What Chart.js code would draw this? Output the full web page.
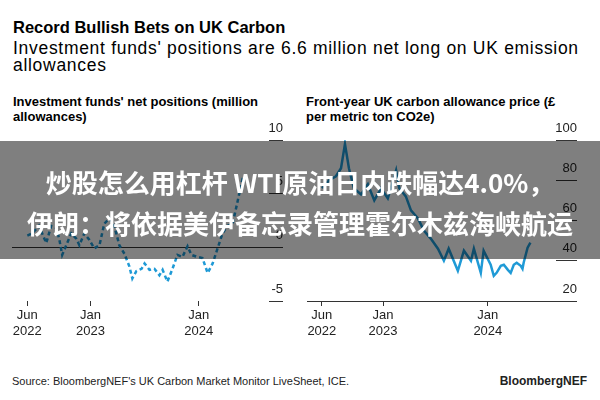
<!DOCTYPE html>
<html>
<head>
<meta charset="utf-8">
<script src="https://cdn.jsdelivr.net/npm/chart.js@4.4.1/dist/chart.umd.min.js"></script>
<style>
  body { margin: 0; background: #fff; }
  #page { position: relative; width: 600px; height: 400px; overflow: hidden;
          font-family: 'Liberation Sans', Arial, sans-serif; color: #000; }
  .txt { position: absolute; white-space: nowrap; }
  .panel { position: absolute; top: 120px; width: 300px; height: 225px; }
  #banner { position: absolute; left: 0; top: 141px; width: 600px; height: 118px;
            background: rgba(0, 0, 0, 0.5); color: #fff; text-align: center;
            font-family: 'Noto Sans CJK SC', sans-serif; font-weight: bold;
            font-size: 26px; line-height: 41px; padding-top: 20px; box-sizing: border-box; }
</style>
</head>
<body>
<div id="page">
  <div class="txt" style="left:13px;top:17px;font-weight:bold;font-size:16.5px;line-height:20px">Record Bullish Bets on UK Carbon</div>
  <div class="txt" style="left:13px;top:40px;font-size:17.5px;line-height:17px;letter-spacing:0.7px">Investment funds' positions are 6.6 million net long on UK emission<br>allowances</div>
  <div class="txt" style="left:13px;top:94px;font-weight:bold;font-size:13px;line-height:15px">Investment funds' net positions (million<br>allowances)</div>
  <div class="txt" style="left:306px;top:94px;font-weight:bold;font-size:13px;line-height:15px">Front-year UK carbon allowance price (£<br>per metric ton CO2e)</div>
  <div class="panel" style="left:0"><canvas id="funds"></canvas></div>
  <div class="panel" style="left:300px"><canvas id="price"></canvas></div>
  <div class="txt" style="left:12px;top:374px;font-size:11px;line-height:14px;color:#222">Source: BloombergNEF's UK Carbon Market Monitor LiveSheet, ICE.</div>
  <div class="txt" style="right:13px;top:374px;font-size:12px;line-height:14px;font-weight:bold;color:#222">BloombergNEF</div>
  <div id="banner">炒股怎么用杠杆 WTI原油日内跌幅达4.0%，<br>伊朗：将依据美伊备忘录管理霍尔木兹海峡航运</div>
</div>
<script>
// investment funds' net positions, million allowances
const fundDates = ['2022-06-01','2022-06-17','2022-07-10','2022-08-04','2022-08-21','2022-09-07',
  '2022-09-17','2022-09-27','2022-10-11','2022-10-28','2022-11-14','2022-11-24','2022-12-11',
  '2022-12-28','2023-01-14','2023-02-01','2023-02-16','2023-03-04','2023-03-21','2023-04-07',
  '2023-04-24','2023-05-11','2023-05-21','2023-06-04','2023-06-21','2023-07-01','2023-07-18',
  '2023-08-04','2023-08-21','2023-09-01','2023-09-17','2023-10-04','2023-10-21','2023-11-07',
  '2023-11-24','2023-12-07','2023-12-28','2024-01-14','2024-02-01','2024-02-17','2024-03-04',
  '2024-03-21','2024-04-07','2024-04-24','2024-05-11','2024-05-28','2024-06-04'];
const fundValues = [1.1, 1.3, 2.0, 0.4, 2.0, 1.8,
  0.8, -0.7, 0.2, 1.3, 0.8, 0.2, 1.3,
  0.7, -0.1, 0.2, 2.2, 2.7, 2.0, 0.2,
  -0.6, -1.8, -2.9, -2.2, -2.0, -1.5, -2.1,
  -2.0, -2.6, -2.1, -3.2, -2.0, -0.7, -0.9,
  0.1, -0.7, -0.9, -1.0, -2.4, -1.5, -0.1,
  1.3, 2.0, 2.2, 4.3, 6.4, 6.6];

// front-year UKA price, GBP per metric ton CO2e
const priceDates = ['2022-06-02','2022-06-26','2022-07-20','2022-08-07','2022-08-21','2022-09-04',
  '2022-09-21','2022-10-16','2022-11-09','2022-12-01','2022-12-25','2023-01-18','2023-02-15',
  '2023-02-25','2023-03-20','2023-04-07','2023-05-01','2023-05-22','2023-06-15','2023-07-10',
  '2023-07-31','2023-08-17','2023-09-18','2023-10-09','2023-11-03','2023-11-13','2023-12-07',
  '2023-12-17','2024-01-11','2024-01-22','2024-02-01','2024-02-15','2024-02-25','2024-03-10',
  '2024-03-20','2024-03-31','2024-04-10','2024-04-24','2024-04-30','2024-05-04','2024-05-18',
  '2024-05-28'];
const priceValues = [76, 80, 82, 86, 98, 86,
  76, 73, 78, 70, 76, 71, 85,
  76, 72, 65, 61, 55, 51, 46,
  40, 46, 35, 45, 40, 46, 34,
  45, 38, 32.5, 34, 37.5, 38, 35.5,
  34, 38, 39, 37.5, 36, 39, 46.5,
  49];

const xTickMonths = [5, 12, 24];
const xTickLabels = [['Jun', '2022'], ['Jan', '2023'], ['Jan', '2024']];

// months since Jan 2022
function monthIndex(d) {
  const [y, m, day] = d.split('-').map(Number);
  const dim = new Date(y, m, 0).getDate();
  return (y - 2022) * 12 + (m - 1) + (day - 1) / dim;
}

Chart.defaults.font.family = "'Liberation Sans', Arial, sans-serif";
Chart.defaults.color = '#222';
Chart.defaults.animation = false;

const lineBlue = '#1f9ad6';
const axisGrey = '#333';

function makePanel(id, dates, values, o) {
  const points = dates.map((d, i) => ({ x: monthIndex(d), y: values[i] }));
  return new Chart(document.getElementById(id), {
    type: 'line',
    data: {
      datasets: [{
        data: points,
        borderColor: lineBlue,
        borderWidth: 2.5,
        borderDash: o.dash,
        pointRadius: 0,
        tension: 0
      }]
    },
    options: {
      responsive: true,
      maintainAspectRatio: false,
      layout: { padding: o.padding },
      plugins: { legend: { display: false }, tooltip: { enabled: false } },
      scales: {
        x: {
          type: 'linear',
          min: 3.3,
          max: 31.8,
          afterBuildTicks: s => { s.ticks = xTickMonths.map(v => ({ value: v })); },
          afterFit: s => { s.height = 40; },
          ticks: {
            autoSkip: false, maxRotation: 0, padding: 2,
            font: { size: 13 }, color: '#222',
            callback: v => xTickLabels[xTickMonths.indexOf(v)]
          },
          grid: { drawOnChartArea: false, tickLength: 5, tickColor: axisGrey, lineWidth: 1 },
          border: { display: false }
        },
        y: {
          position: 'right',
          min: o.min,
          max: o.max,
          afterFit: s => { s.width = o.axisWidth; },
          ticks: {
            stepSize: o.step,
            crossAlign: 'far',
            padding: -o.axisWidth,
            labelOffset: -12,
            font: { size: 13 }, color: '#222'
          },
          grid: {
            tickLength: o.axisWidth,
            color: c => c.tick && c.tick.value === o.base ? axisGrey : 'rgba(0,0,0,0)',
            tickColor: axisGrey,
            lineWidth: 1
          },
          border: { display: false }
        }
      }
    }
  });
}

makePanel('funds', fundDates, fundValues, {
  dash: [4, 3], min: -5, max: 10, step: 5, base: 0, axisWidth: 14,
  padding: { left: 12, right: 17, top: 20, bottom: 4 }
});
makePanel('price', priceDates, priceValues, {
  dash: [], min: 20, max: 100, step: 20, base: 20, axisWidth: 21,
  padding: { left: 7, right: 23, top: 20, bottom: 4 }
});
</script>
</body>
</html>
